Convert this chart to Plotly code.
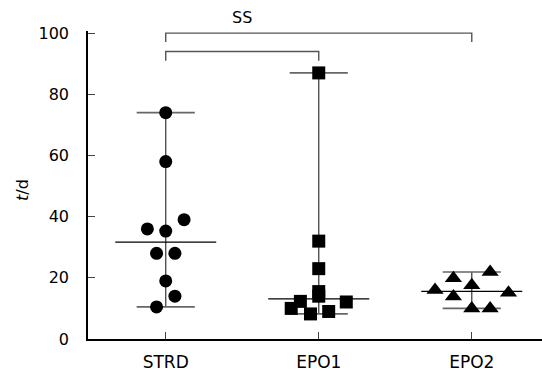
import plotly.graph_objects as go
import numpy as np

categories = ["STRD", "EPO1", "EPO2"]

strd_values = [74, 58, 39, 36, 35.3, 28, 28, 19, 14, 10.5]
strd_offsets = [0, 0, 0.12, -0.12, 0, -0.06, 0.06, 0, 0.06, -0.06]

epo1_values = [87, 32, 23, 15.5, 14, 12.3, 12.1, 10, 9, 8.2]
epo1_offsets = [0, 0, 0, 0, 0, -0.12, 0.18, -0.18, 0.065, -0.054]

epo2_values = [21.9, 19.9, 17.6, 16.0, 15.1, 13.9, 10.0, 10.0]
epo2_offsets = [0.12, -0.12, 0, -0.24, 0.24, -0.12, 0, 0.12]

y_ticks = [0, 20, 40, 60, 80, 100]
bracket_label = "SS"

groups = [
    (strd_values, strd_offsets, "circle", 13),
    (epo1_values, epo1_offsets, "square", 13),
    (epo2_values, epo2_offsets, "triangle-up", 15),
]

FONT = "DejaVu Sans"
fig = go.Figure()

MED_HW = 0.33
RNG_HW = 0.19

for i, (vals, offs, sym, msize) in enumerate(groups):
    med = float(np.median(vals))
    lo, hi = min(vals), max(vals)
    # vertical line min-max
    fig.add_trace(go.Scatter(x=[i, i], y=[lo, hi], mode="lines",
                             line=dict(color="#444444", width=1.3),
                             hoverinfo="skip", showlegend=False))
    # range lines
    for v in (lo, hi):
        fig.add_trace(go.Scatter(x=[i - RNG_HW, i + RNG_HW], y=[v, v], mode="lines",
                                 line=dict(color="#666666", width=1.6),
                                 hoverinfo="skip", showlegend=False))
    # median
    fig.add_trace(go.Scatter(x=[i - MED_HW, i + MED_HW], y=[med, med], mode="lines",
                             line=dict(color="black", width=1.3),
                             hoverinfo="skip", showlegend=False))
    fig.add_trace(go.Scatter(x=[i + o for o in offs], y=vals, mode="markers",
                             marker=dict(symbol=sym, size=msize, color="black",
                                         line=dict(width=0)),
                             showlegend=False, cliponaxis=False))

# significance brackets
outer_y, outer_drop = 100, 97.1
inner_y, inner_drop = 94, 91
fig.add_trace(go.Scatter(x=[0, 0, 2, 2], y=[outer_drop, outer_y, outer_y, outer_drop],
                         mode="lines", line=dict(color="#555555", width=1.4),
                         hoverinfo="skip", showlegend=False))
fig.add_trace(go.Scatter(x=[0, 0, 1, 1], y=[inner_drop, inner_y, inner_y, inner_drop],
                         mode="lines", line=dict(color="#555555", width=1.4),
                         hoverinfo="skip", showlegend=False))

fig.add_annotation(x=0.5, y=outer_y, xref="x", yref="y", text=bracket_label,
                   showarrow=False, yanchor="bottom", yshift=4,
                   font=dict(family=FONT, size=16, color="black"))

fig.add_annotation(x=-0.143, y=0.484, xref="paper", yref="paper",
                   text="<i>t</i>/d", textangle=-90, showarrow=False,
                   xanchor="center", yanchor="middle",
                   font=dict(family=FONT, size=16, color="black"))

fig.update_layout(
    width=542, height=372,
    margin=dict(l=88, r=0, t=31, b=33),
    plot_bgcolor="white", paper_bgcolor="white",
    font=dict(family=FONT, color="black"),
    xaxis=dict(range=[-0.508, 2.459], tickvals=[0, 1, 2], ticktext=categories,
               showline=True, linecolor="black", linewidth=1.5,
               ticks="inside", ticklen=7, tickcolor="#444444", tickwidth=1.3,
               showgrid=False, zeroline=False,
               tickfont=dict(family=FONT, size=17, color="black"),
               ticklabelstandoff=7),
    yaxis=dict(range=[0, 100.7], tickvals=y_ticks,
               showline=True, linecolor="black", linewidth=1.5,
               ticks="inside", ticklen=7, tickcolor="#444444", tickwidth=1.3,
               showgrid=False, zeroline=False,
               tickfont=dict(family=FONT, size=16, color="black"),
               ticklabelstandoff=14),
)

fig.write_html("out.html")
